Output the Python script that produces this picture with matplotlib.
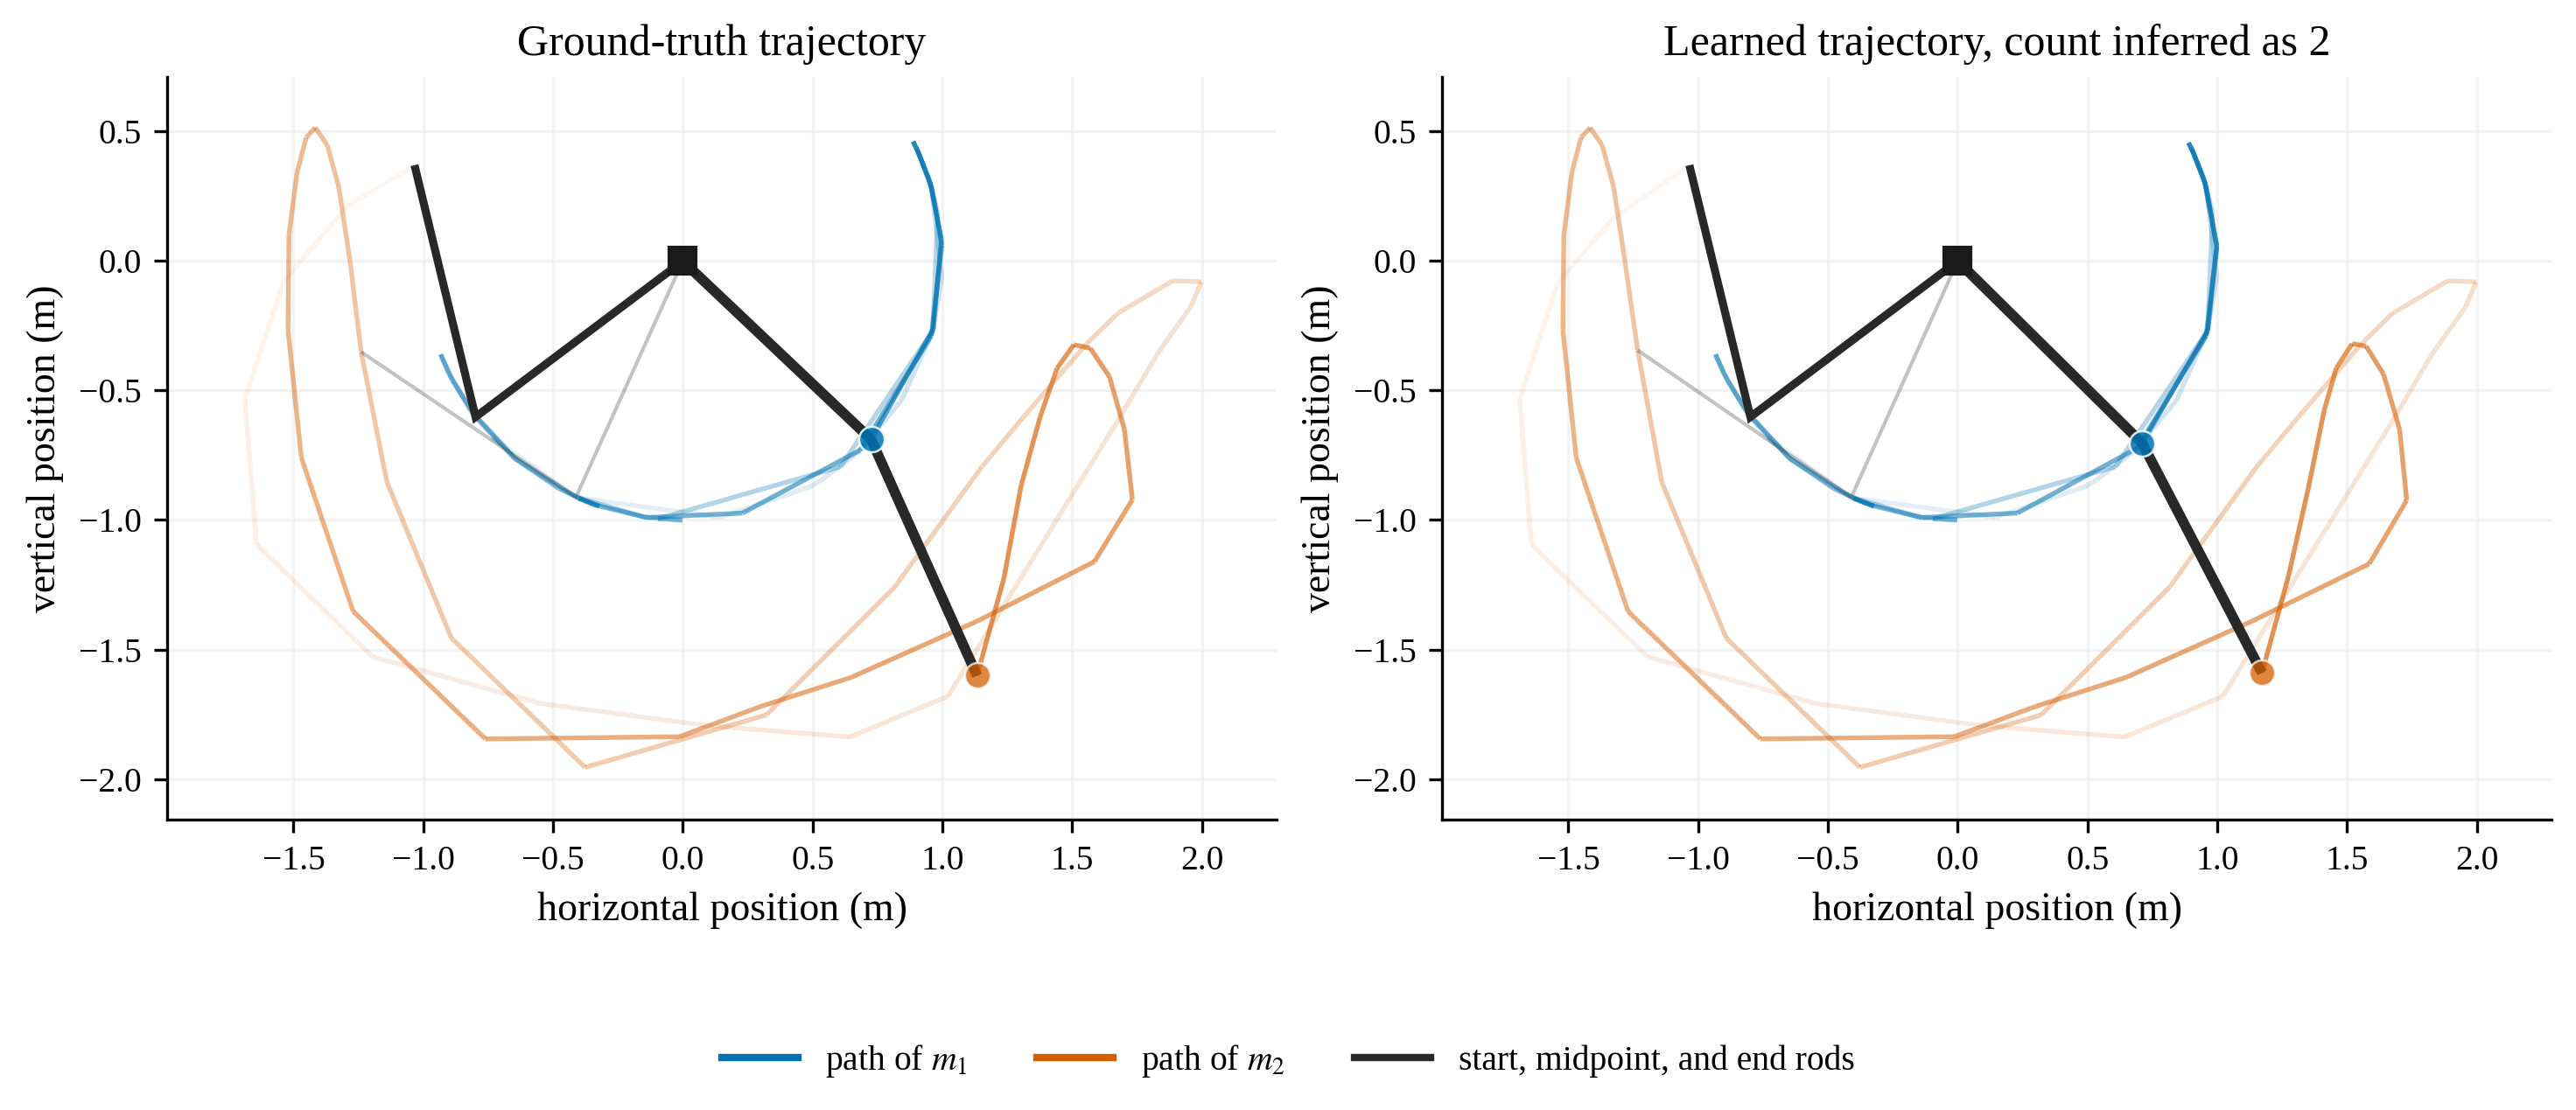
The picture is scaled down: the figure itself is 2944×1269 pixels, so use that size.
import numpy as np
import matplotlib
matplotlib.use("Agg")
import matplotlib.pyplot as plt
import matplotlib.colors as mcolors
from matplotlib.collections import LineCollection
from matplotlib.lines import Line2D

plt.rcParams['font.family'] = ['Liberation Serif', 'DejaVu Serif']
plt.rcParams['mathtext.fontset'] = 'stix'

# ---------------- data (angles from the downward vertical, degrees) ----------------
rod_length_1 = 1.0
rod_length_2 = 1.0

theta1_true = [-53.0, -50.2, -47.4, -44.7, -47.1, -23.9, 8.4, 29.2, 32.5, 41.7,
               43.3, 57.6, 74.3, 86.6, 106.8, 115.6, 115.8, 108.8, 100.9, 74.4,
               37.4, -5.5, -0.1, -8.6, -24.3, -40.1, -54.9, -64.2, -68.9, -68.0,
               -62.7, -53.3, -40.6, -28.5, -21.3, -18.8, -23.7, -19.3, -7.9, 13.3,
               43.1, 73.2, 93.5, 106.4, 114.5, 117.5, 115.4, 107.7, 94.9, 74.8,
               46.5]
theta2_true = [-166.4, -148.0, -126.6, -100.3, -65.5, -52.1, -44.0, -22.8, 6.1, 20.9,
               96.7, 100.2, 95.5, 88.8, 68.6, 50.6, 40.8, 21.0, 9.7, -8.4,
               -16.6, -16.3, -62.9, -97.8, -124.1, -140.3, -149.5, -152.0, -151.1, -148.4,
               -143.3, -134.3, -119.5, -96.9, -65.1, -26.0, 22.9, 39.1, 51.9, 65.5,
               64.5, 50.8, 44.7, 43.2, 41.3, 38.3, 32.6, 25.1, 17.9, 15.8,
               24.1]

theta1_learned = [-53.0, -49.0, -47.4, -44.7, -47.1, -23.9, 8.4, 29.2, 32.5, 41.7,
                  43.3, 57.6, 74.3, 86.6, 106.8, 115.6, 115.8, 108.8, 100.9, 74.4,
                  37.4, -5.5, -0.1, -8.6, -24.2, -40.1, -54.9, -64.2, -68.9, -68.0,
                  -62.7, -53.3, -40.6, -28.5, -21.3, -18.8, -23.7, -19.3, -7.9, 13.3,
                  43.7, 73.2, 93.4, 107.0, 114.7, 117.2, 114.9, 108.1, 93.2, 74.5,
                  45.3]
theta2_learned = [-166.4, -144.8, -126.6, -100.3, -65.5, -52.1, -44.0, -22.8, 6.1, 20.9,
                  96.7, 100.2, 95.5, 88.8, 68.6, 50.6, 40.8, 21.0, 9.7, -8.4,
                  -16.6, -16.3, -62.9, -97.8, -124.6, -140.3, -149.5, -152.0, -151.1, -148.4,
                  -143.3, -134.3, -119.5, -96.9, -65.1, -26.0, 22.9, 39.1, 51.9, 65.5,
                  63.5, 50.6, 44.8, 43.2, 41.7, 39.1, 33.5, 27.5, 20.6, 18.1,
                  27.5]

mid_step = 24

panel_titles = ["Ground-truth trajectory", "Learned trajectory, count inferred as 2"]
x_ticks = [-1.5, -1.0, -0.5, 0.0, 0.5, 1.0, 1.5, 2.0]
y_ticks = [0.5, 0.0, -0.5, -1.0, -1.5, -2.0]
legend_labels = ["path of $m_1$", "path of $m_2$", "start, midpoint, and end rods"]

# ---------------- style ----------------
BLUE = "#0173b2"
ORANGE = "#d55e00"
ROD = "#282828"

W, H = 2944, 1269
DPI = 300
fig = plt.figure(figsize=(W / DPI, H / DPI), dpi=DPI)

ax_w = 1268 / W
ax_h = 849 / H
ax_b = 1 - 937 / H
axes = [fig.add_axes([191 / W, ax_b, ax_w, ax_h]),
        fig.add_axes([1648 / W, ax_b, ax_w, ax_h])]


def draw(ax, th1, th2, title):
    t1 = np.radians(th1)
    t2 = np.radians(th2)
    x1 = rod_length_1 * np.sin(t1)
    y1 = -rod_length_1 * np.cos(t1)
    x2 = x1 + rod_length_2 * np.sin(t2)
    y2 = y1 - rod_length_2 * np.cos(t2)
    n = len(x1)
    alphas = np.linspace(0.05, 0.68, n - 1)

    for xs, ys, c in [(x1, y1, BLUE), (x2, y2, ORANGE)]:
        pts = np.column_stack([xs, ys])
        segs = np.stack([pts[:-1], pts[1:]], axis=1)
        cols = [mcolors.to_rgba(c, a) for a in alphas]
        lc = LineCollection(segs, colors=cols, linewidths=1.3,
                            capstyle='butt', zorder=2)
        ax.add_collection(lc)

    # rods: start, midpoint, end
    for k, lw, alpha in [(0, 2.2, 1.0), (mid_step, 1.0, 0.28), (n - 1, 2.8, 1.0)]:
        ax.plot([0, x1[k], x2[k]], [0, y1[k], y2[k]], color=ROD, lw=lw,
                alpha=alpha, solid_capstyle='butt', solid_joinstyle='miter',
                zorder=3)

    ax.plot(x1[-1], y1[-1], 'o', ms=7, mfc=BLUE, mec='white', mew=0.6,
            alpha=0.85, zorder=5)
    ax.plot(x2[-1], y2[-1], 'o', ms=7, mfc=ORANGE, mec='white', mew=0.6,
            alpha=0.75, zorder=5)
    ax.plot(0, 0, 's', ms=7, color='#1a1a1a', zorder=6)

    ax.set_xlim(-1.987, 2.288)
    ax.set_ylim(-2.157, 0.711)
    ax.set_xticks(x_ticks)
    ax.set_yticks(y_ticks)
    ax.grid(True, color='#ebebeb', lw=0.8, alpha=0.6, zorder=0)
    ax.set_axisbelow(True)
    for s in ['top', 'right']:
        ax.spines[s].set_visible(False)
    for s in ['left', 'bottom']:
        ax.spines[s].set_linewidth(0.8)
    ax.tick_params(direction='out', length=3.5, width=0.8, labelsize=9.5)
    ax.set_xlabel("horizontal position (m)", fontsize=11)
    ax.set_ylabel("vertical position (m)", fontsize=11)
    ax.set_title(title, fontsize=12)


draw(axes[0], theta1_true, theta2_true, panel_titles[0])
draw(axes[1], theta1_learned, theta2_learned, panel_titles[1])

handles = [Line2D([], [], color=BLUE, lw=2),
           Line2D([], [], color=ORANGE, lw=2),
           Line2D([], [], color=ROD, lw=2)]
fig.legend(handles, legend_labels, loc='center', bbox_to_anchor=(0.5, 0.044),
           ncol=3, frameon=False, fontsize=9.5, handlelength=2.2)

fig.savefig("out.png", dpi=DPI)
